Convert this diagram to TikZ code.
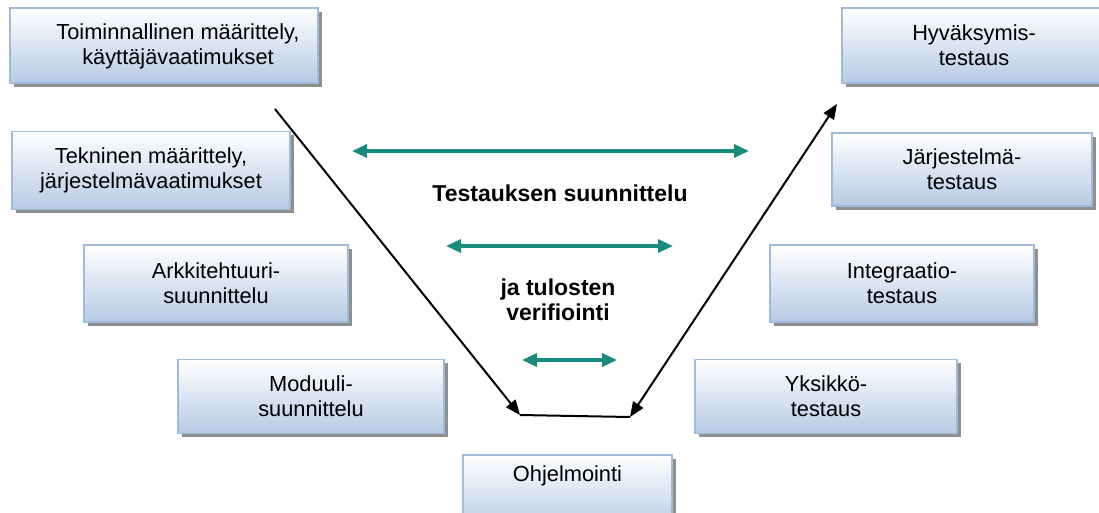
\documentclass[tikz,border=0pt]{standalone}
\usepackage{fontspec}
\setmainfont{Liberation Sans}
\usetikzlibrary{arrows.meta,shadows}
\definecolor{boxblue}{RGB}{182,202,228}
\definecolor{boxedge}{RGB}{160,186,220}
\definecolor{tealc}{RGB}{24,138,126}
\begin{document}
\begin{tikzpicture}[x=1pt,y=-1pt,
  vbox/.style={rectangle, draw=boxedge, line width=1.2pt, top color=white, bottom color=boxblue,
    drop shadow={shadow xshift=3.5pt, shadow yshift=-3.5pt, fill=black!55, opacity=0.8},
    align=center, inner sep=0pt, font=\fontsize{21.8}{25}\selectfont},
  boxtext/.style={align=center, inner sep=0pt, font=\fontsize{21.8}{25}\selectfont},
  midtext/.style={align=center, inner sep=0pt, font=\fontsize{23}{25}\selectfont\bfseries},
  vline/.style={draw=black, line width=2pt},
  vtip/.style={-{Triangle[length=15pt,width=12pt]}},
  vtips/.style={{Triangle[length=15pt,width=12pt]}-{Triangle[length=15pt,width=12pt]}},
  tarrow/.style={draw=tealc, line width=3.2pt, {Triangle[length=15pt,width=13pt]}-{Triangle[length=15pt,width=13pt]}}
]
\useasboundingbox (0,0) rectangle (1099,512);
% left column
\node[vbox, minimum width=308pt, minimum height=75pt] (b1) at (164,45.5) {};
\node[boxtext] (b1t) at (178,46) {Toiminnallinen määrittely,\\käyttäjävaatimukset};
\node[vbox, minimum width=278pt, minimum height=78pt] (b2) at (151,170.5) {Tekninen määrittely,\\järjestelmävaatimukset};
\node[vbox, minimum width=264pt, minimum height=77pt] (b3) at (216,283.5) {Arkkitehtuuri-\\suunnittelu};
\node[vbox, minimum width=266pt, minimum height=74pt] (b4) at (311,396.5) {Moduuli-\\suunnittelu};
\node[vbox, minimum width=209pt, minimum height=76pt] (b5) at (567.5,493) {};
\node[boxtext] (b5t) at (567.5,476) {Ohjelmointi};
% right column
\node[vbox, minimum width=264pt, minimum height=75pt] (r1) at (974,45.5) {Hyväksymis-\\testaus};
\node[vbox, minimum width=260pt, minimum height=73pt] (r2) at (962,169.5) {Järjestelmä-\\testaus};
\node[vbox, minimum width=264pt, minimum height=77pt] (r3) at (902,283.5) {Integraatio-\\testaus};
\node[vbox, minimum width=262pt, minimum height=74pt] (r4) at (826,396.5) {Yksikkö-\\testaus};
% V lines
\coordinate (vA) at (275,109);
\coordinate (vB) at (520,415);
\coordinate (vC) at (630,417);
\coordinate (vD) at (837,104);
\draw[vline, vtip] (vA) -- (vB);
\draw[vline] (vB) -- (vC);
\draw[vline, vtips] (vC) -- (vD);
% teal arrows
\coordinate (a1l) at (352,151);
\coordinate (a1r) at (749,151);
\coordinate (a2l) at (446,246);
\coordinate (a2r) at (673,246);
\coordinate (a3l) at (522,360);
\coordinate (a3r) at (617,360);
\draw[tarrow] (a1l) -- (a1r);
\draw[tarrow] (a2l) -- (a2r);
\draw[tarrow] (a3l) -- (a3r);
% middle text
\node[midtext] (m1) at (560,193) {Testauksen suunnittelu};
\node[midtext] (m2) at (558,300) {ja tulosten\\verifiointi};
\end{tikzpicture}
\end{document}
